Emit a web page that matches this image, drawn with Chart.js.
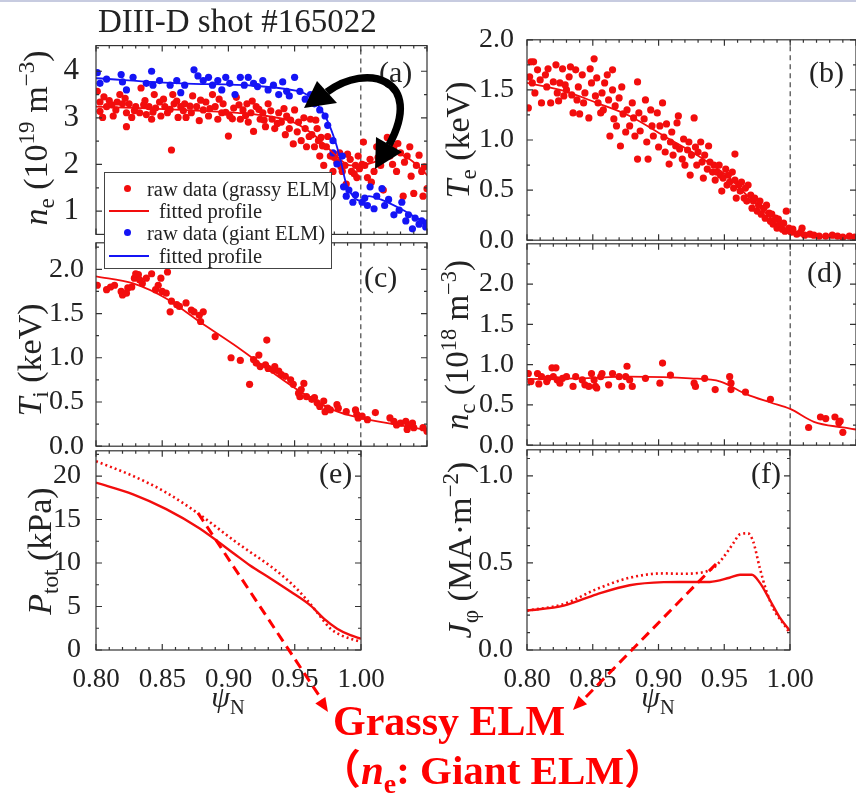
<!DOCTYPE html>
<html>
<head>
<meta charset="utf-8">
<script src="https://cdn.jsdelivr.net/npm/chart.js@4.4.0/dist/chart.umd.min.js"></script>
<style>
html, body { margin: 0; padding: 0; background: #fff; width: 856px; height: 798px; overflow: hidden; }
body { position: relative; font-family: "Liberation Serif", "DejaVu Serif", serif; color: #222; }
canvas { position: absolute; }
.t { position: absolute; white-space: nowrap; line-height: 1; z-index: 5; }
.rot { transform: translate(-50%, -50%) rotate(-90deg); }
.ctr { transform: translate(-50%, -50%); }
sub, sup { font-size: 0.68em; line-height: 0; position: relative; vertical-align: baseline; }
sub { top: 0.32em; }
sup { top: -0.55em; }
#leg { position: absolute; left: 104px; top: 172px; width: 226px; height: 95px; border: 1px solid #444; background: #fff; z-index: 6; font-size: 20.5px; }
#leg .row { position: absolute; white-space: nowrap; line-height: 1; }
#leg .dot { position: absolute; width: 7px; height: 7px; border-radius: 50%; }
#leg .ln { position: absolute; height: 2px; width: 40px; }
#topbar { position: absolute; left: 0; top: 0; width: 856px; height: 2px; background: #c7cbe0; }
svg { position: absolute; left: 0; top: 0; z-index: 7; pointer-events: none; }
</style>
</head>
<body>
<div id="topbar"></div>

<script>
// psi_N on x
const neGrassyRaw = [
  [0.801,3.57],[0.803,3.34],[0.803,3.14],[0.805,3.01],[0.806,3.45],[0.808,3.24],[0.810,3.37],[0.812,3.28],[0.813,3.04],[0.815,3.17],
  [0.816,3.34],[0.818,3.50],[0.820,3.30],[0.822,3.42],[0.823,3.11],[0.823,2.81],[0.825,3.30],[0.827,3.01],[0.829,3.15],[0.830,3.24],
  [0.833,3.11],[0.834,3.64],[0.836,3.28],[0.837,3.37],[0.838,3.07],[0.840,3.24],[0.842,2.97],[0.843,3.12],[0.844,3.50],[0.845,3.21],
  [0.848,3.34],[0.849,3.04],[0.851,3.40],[0.852,3.24],[0.854,3.11],[0.856,3.18],[0.857,2.31],[0.858,3.50],[0.859,3.30],[0.861,3.36],
  [0.862,3.01],[0.864,3.24],[0.866,3.15],[0.867,3.30],[0.868,3.01],[0.871,3.25],[0.872,3.11],[0.873,3.47],[0.876,3.24],[0.878,2.94],
  [0.879,3.38],[0.881,3.17],[0.883,3.34],[0.885,3.04],[0.886,3.20],[0.888,3.50],[0.890,3.24],[0.892,2.97],[0.893,3.40],[0.895,3.11],
  [0.896,3.30],[0.898,3.12],[0.900,2.61],[0.901,3.04],[0.903,2.98],[0.904,3.21],[0.906,3.44],[0.908,3.28],[0.909,2.97],[0.911,3.17],
  [0.913,3.05],[0.914,3.30],[0.915,2.91],[0.917,3.11],[0.918,3.36],[0.919,2.71],[0.921,3.24],[0.923,3.18],[0.924,2.97],[0.926,3.11],
  [0.927,2.95],[0.928,2.81],[0.930,3.30],[0.932,3.15],[0.933,2.97],[0.935,2.77],[0.937,2.88],[0.938,3.11],[0.940,2.91],[0.942,3.20],
  [0.943,2.64],[0.944,3.04],[0.946,2.77],[0.947,2.95],[0.949,2.44],[0.950,3.17],[0.952,2.70],[0.953,2.91],[0.955,2.51],[0.957,3.00],
  [0.958,2.77],[0.959,2.38],[0.961,2.60],[0.962,2.97],[0.963,2.64],[0.965,2.38],[0.966,2.95],[0.967,2.77],[0.968,2.51],[0.969,2.18],
  [0.970,2.58],[0.971,2.40],[0.972,1.98],[0.974,2.38],[0.975,2.60],[0.977,2.18],[0.979,1.85],[0.980,2.15],[0.982,2.05],[0.984,2.25],
  [0.985,1.95],[0.986,1.85],[0.988,1.98],[0.989,1.58],[0.990,2.22],[0.992,2.11],[0.993,1.85],[0.995,1.80],[0.996,1.98],[0.997,1.72],
  [0.998,2.18],[0.999,1.91],[1.001,2.00],[1.002,2.48],[1.003,1.98],[1.005,1.72],[1.007,2.11],[1.008,1.62],[1.010,1.85],[1.012,2.38],
  [1.013,2.15],[1.015,1.98],[1.017,1.45],[1.018,2.30],[1.020,2.58],[1.022,2.18],[1.024,2.00],[1.025,2.38],[1.027,1.85],[1.028,2.45],
  [1.030,2.25],[1.032,1.32],[1.033,2.05],[1.035,2.18],[1.037,2.38],[1.038,1.75],[1.040,1.38],[1.042,1.98],[1.044,2.20],[1.046,1.85],
  [1.047,1.32],[1.048,1.95],[1.050,1.48],[1.051,2.05]
];
const neGrassyFit = [[0.800,3.24],[0.864,3.17],[0.929,3.04],[0.949,2.91],[0.967,2.58],[0.979,2.25],[0.992,1.98],[1.000,1.98],
  [1.010,2.05],[1.025,2.25],[1.037,2.11],[1.051,1.75]];
const neGiantRaw = [
  [0.801,3.97],[0.803,3.74],[0.808,3.83],[0.819,3.93],[0.820,3.77],[0.823,3.60],[0.828,3.87],[0.838,3.74],[0.842,4.00],[0.843,3.70],
  [0.848,3.80],[0.856,3.70],[0.861,3.80],[0.864,3.54],[0.867,3.70],[0.874,4.03],[0.877,3.90],[0.881,3.80],[0.885,3.87],[0.888,3.70],
  [0.892,3.80],[0.895,3.60],[0.898,3.87],[0.901,3.74],[0.905,3.50],[0.909,3.87],[0.912,3.70],[0.915,3.87],[0.919,3.74],[0.922,3.67],
  [0.926,3.80],[0.930,3.60],[0.934,3.70],[0.938,3.50],[0.941,3.77],[0.944,3.57],[0.946,3.47],[0.950,3.87],[0.954,3.57],[0.958,3.40],
  [0.962,3.50],[0.965,3.30],[0.969,3.17],[0.973,3.04],[0.975,2.84],[0.979,2.51],[0.979,2.25],[0.982,2.01],[0.986,2.18],[0.987,1.52],
  [0.989,1.32],[0.991,1.45],[0.994,1.19],[0.996,1.35],[1.001,1.19],[1.003,1.28],[1.005,1.12],[1.007,1.52],[1.010,1.05],[1.012,1.32],
  [1.016,1.48],[1.018,1.12],[1.021,1.25],[1.025,0.92],[1.029,1.02],[1.031,1.19],[1.034,0.79],[1.036,0.92],[1.039,0.62],[1.041,0.85],
  [1.044,0.72],[1.046,0.79],[1.049,0.66],[1.050,0.75]
];
const neGiantFit = [[0.800,3.85],[0.864,3.74],[0.952,3.58],[0.962,3.44],[0.973,3.04],[0.979,2.64],[0.984,2.18],[0.989,1.58],
  [0.994,1.32],[1.000,1.22],[1.006,1.32],[1.015,1.25],[1.030,1.05],[1.040,0.89],[1.051,0.72]];

const teRaw = [
  [0.801,1.32],[0.802,1.63],[0.803,1.78],[0.804,1.57],[0.805,1.78],[0.806,1.47],[0.808,1.70],[0.810,1.60],[0.811,1.37],[0.814,1.65],
  [0.815,1.53],[0.816,1.71],[0.818,1.37],[0.820,1.58],[0.822,1.75],[0.823,1.47],[0.824,1.39],[0.825,1.57],[0.827,1.71],[0.828,1.44],
  [0.829,1.55],[0.830,1.50],[0.832,1.63],[0.833,1.73],[0.834,1.45],[0.835,1.27],[0.837,1.70],[0.838,1.40],[0.839,1.53],[0.840,1.26],
  [0.842,1.65],[0.843,1.37],[0.844,1.47],[0.847,1.22],[0.848,1.71],[0.849,1.57],[0.851,1.81],[0.852,1.44],[0.853,1.62],[0.854,1.37],
  [0.856,1.27],[0.857,1.47],[0.858,1.30],[0.859,1.57],[0.861,1.65],[0.862,1.40],[0.863,1.04],[0.865,1.70],[0.865,1.50],[0.866,1.21],
  [0.867,1.34],[0.868,1.14],[0.870,1.42],[0.871,0.94],[0.872,1.53],[0.873,1.26],[0.875,1.08],[0.876,1.30],[0.878,1.14],[0.880,1.37],
  [0.881,1.22],[0.882,1.04],[0.884,1.58],[0.884,0.81],[0.885,1.27],[0.886,1.09],[0.889,1.21],[0.890,1.40],[0.891,0.98],[0.892,0.81],
  [0.894,1.30],[0.895,1.14],[0.896,1.04],[0.899,1.27],[0.900,0.93],[0.901,1.14],[0.903,1.37],[0.904,1.03],[0.905,0.88],[0.906,1.16],
  [0.908,0.76],[0.909,0.98],[0.910,1.08],[0.911,0.85],[0.913,0.94],[0.914,1.17],[0.915,1.24],[0.916,0.91],[0.918,0.81],[0.919,1.01],
  [0.920,0.75],[0.922,0.90],[0.923,0.98],[0.924,0.65],[0.925,0.85],[0.927,1.22],[0.928,0.93],[0.929,0.75],[0.930,0.88],[0.932,0.98],
  [0.933,0.78],[0.934,0.62],[0.935,0.85],[0.937,0.71],[0.938,0.94],[0.939,0.78],[0.941,0.68],[0.942,0.75],[0.943,0.60],[0.944,0.68],
  [0.946,0.75],[0.947,0.65],[0.948,0.49],[0.949,0.62],[0.951,0.71],[0.952,0.55],[0.953,0.65],[0.954,0.58],[0.956,0.68],[0.957,0.52],
  [0.958,0.86],[0.958,0.60],[0.959,0.42],[0.961,0.55],[0.962,0.49],[0.963,0.58],[0.965,0.42],[0.966,0.52],[0.967,0.39],[0.968,0.55],
  [0.970,0.45],[0.971,0.32],[0.972,0.39],[0.973,0.42],[0.975,0.29],[0.976,0.35],[0.977,0.39],[0.978,0.26],[0.980,0.32],[0.981,0.22],
  [0.982,0.35],[0.984,0.27],[0.985,0.19],[0.986,0.26],[0.987,0.16],[0.989,0.22],[0.990,0.12],[0.991,0.21],[0.992,0.16],[0.994,0.11],
  [0.995,0.17],[0.996,0.09],[0.997,0.29],[0.999,0.12],[1.000,0.09],[1.001,0.08],[1.002,0.11],[1.005,0.06],[1.008,0.08],[1.009,0.12],
  [1.011,0.05],[1.015,0.06],[1.018,0.05],[1.022,0.04],[1.027,0.04],[1.032,0.05],[1.036,0.04],[1.040,0.03],[1.045,0.04],[1.049,0.03]
];
const teFit = [[0.800,1.57],[0.828,1.49],[0.853,1.37],[0.878,1.24],[0.904,1.04],[0.929,0.85],[0.954,0.62],[0.967,0.45],
  [0.980,0.29],[0.990,0.16],[1.000,0.08],[1.010,0.04],[1.030,0.03],[1.050,0.02]];

const tiRaw = [
  [0.801,1.82],[0.808,1.77],[0.811,1.80],[0.814,1.82],[0.819,1.75],[0.820,1.71],[0.823,1.73],[0.824,1.79],[0.827,1.80],[0.829,1.90],
  [0.830,1.95],[0.832,1.94],[0.833,1.88],[0.835,1.84],[0.838,1.90],[0.842,1.95],[0.845,1.77],[0.847,1.82],[0.849,1.90],[0.850,1.75],
  [0.853,1.73],[0.854,1.97],[0.856,1.52],[0.857,1.64],[0.861,1.60],[0.863,1.58],[0.868,1.62],[0.872,1.54],[0.874,1.52],[0.878,1.48],
  [0.879,1.41],[0.881,1.52],[0.890,1.24],[0.902,1.00],[0.909,0.97],[0.916,0.70],[0.919,0.98],[0.921,0.94],[0.923,1.03],[0.924,0.90],
  [0.928,0.92],[0.929,1.20],[0.930,0.88],[0.934,0.86],[0.935,0.90],[0.938,0.85],[0.940,0.81],[0.943,0.79],[0.947,0.75],[0.949,0.70],
  [0.953,0.60],[0.954,0.56],[0.955,0.64],[0.957,0.71],[0.959,0.56],[0.963,0.53],[0.965,0.55],[0.967,0.49],[0.969,0.45],[0.972,0.51],
  [0.973,0.39],[0.975,0.43],[0.977,0.41],[0.982,0.47],[0.983,0.43],[0.989,0.39],[0.996,0.41],[0.997,0.36],[0.998,0.32],[1.001,0.34],
  [1.005,0.30],[1.011,0.38],[1.022,0.32],[1.025,0.28],[1.027,0.24],[1.030,0.26],[1.034,0.28],[1.035,0.19],[1.036,0.23],[1.039,0.26],
  [1.040,0.21],[1.047,0.21],[1.050,0.17]
];
const tiFit = [[0.800,1.92],[0.828,1.84],[0.853,1.67],[0.878,1.41],[0.904,1.15],[0.929,0.88],[0.954,0.62],[0.979,0.41],
  [0.999,0.32],[1.017,0.27],[1.051,0.18]];

const ncRaw = [
  [0.801,0.89],[0.803,0.79],[0.808,0.89],[0.809,0.76],[0.811,0.85],[0.815,0.79],[0.816,0.83],[0.819,0.96],[0.820,0.85],[0.822,0.96],
  [0.823,0.81],[0.825,0.77],[0.827,0.83],[0.830,0.85],[0.835,0.73],[0.837,0.85],[0.842,0.81],[0.844,0.75],[0.847,0.73],[0.849,0.89],
  [0.851,0.81],[0.852,0.73],[0.853,0.71],[0.856,0.85],[0.857,0.89],[0.862,0.75],[0.865,0.89],[0.870,0.85],[0.872,0.73],[0.875,0.85],
  [0.876,0.98],[0.878,0.81],[0.880,0.73],[0.890,0.83],[0.901,0.77],[0.903,1.02],[0.909,0.87],[0.927,0.77],[0.928,0.73],[0.935,0.83],
  [0.943,0.69],[0.954,0.85],[0.955,0.77],[0.955,0.69],[0.966,0.66],[0.985,0.57],[1.014,0.22],[1.023,0.35],[1.027,0.33],[1.034,0.35],
  [1.037,0.28],[1.038,0.30],[1.040,0.16]
];
const ncFit = [[0.800,0.82],[0.840,0.83],[0.878,0.85],[0.924,0.83],[0.947,0.79],[0.967,0.63],[0.985,0.53],[1.000,0.45],
  [1.018,0.29],[1.040,0.22],[1.050,0.195]];

const pGrassy = [[0.800,19.25],[0.828,17.9],[0.853,16.2],[0.878,14.0],[0.904,11.1],[0.916,9.75],[0.932,8.2],[0.947,6.7],
  [0.962,5.1],[0.972,3.6],[0.982,2.45],[0.992,1.7],[1.000,1.3]];
const pGiant = [[0.800,21.7],[0.828,20.0],[0.853,18.1],[0.878,15.6],[0.904,12.6],[0.916,11.3],[0.932,9.6],[0.947,7.7],
  [0.959,5.8],[0.967,4.3],[0.977,2.45],[0.985,1.7],[0.992,1.3],[1.000,0.95]];

const jGrassy = [[0.800,0.226],[0.828,0.255],[0.853,0.32],[0.878,0.372],[0.904,0.390],[0.916,0.391],[0.939,0.391],[0.954,0.415],
  [0.962,0.432],[0.971,0.432],[0.977,0.387],[0.985,0.283],[0.992,0.189],[1.000,0.110]];
const jGiant = [[0.800,0.226],[0.828,0.264],[0.853,0.35],[0.878,0.415],[0.904,0.440],[0.916,0.438],[0.932,0.444],[0.942,0.472],
  [0.949,0.529],[0.957,0.614],[0.962,0.665],[0.968,0.670],[0.972,0.623],[0.977,0.472],[0.982,0.340],[0.988,0.227],[0.995,0.151],[1.000,0.095]];

const xTicks = [0.80, 0.85, 0.90, 0.95, 1.00, 1.05];

const RED = '#f20d0d';
const BLUE = '#1414f5';
const pts = arr => arr.map(([x, y]) => ({ x, y }));

function raw(arr, color) {
  return { data: pts(arr), pointRadius: 3.6, pointBackgroundColor: color, pointBorderWidth: 0, showLine: false };
}
function fit(arr, color, width, dash) {
  return { data: pts(arr), showLine: true, borderColor: color, borderWidth: width,
    borderDash: dash || [], pointRadius: 0, cubicInterpolationMode: 'monotone' };
}
function sep(yMin, yMax) {
  return { data: [{ x: 1, y: yMin }, { x: 1, y: yMax }], showLine: true, borderColor: '#444',
    borderWidth: 1.2, borderDash: [5, 4], pointRadius: 0 };
}

// frame with inward ticks on all four sides
const framePlugin = {
  id: 'frame',
  afterDraw(chart, args, opts) {
    const { ctx, chartArea: a, scales: { x, y } } = chart;
    ctx.save();
    ctx.strokeStyle = '#333';
    ctx.lineWidth = 1.2;
    ctx.strokeRect(a.left, a.top, a.right - a.left, a.bottom - a.top);
    ctx.beginPath();
    const tk = (px, py, dx, dy) => { ctx.moveTo(px, py); ctx.lineTo(px + dx, py + dy); };
    for (let i = 80; i <= 105; i++) {
      const v = i / 100;
      if (v > x.max + 1e-9) break;
      const L = i % 5 === 0 ? 6 : 3;
      const p = x.getPixelForValue(v);
      tk(p, a.bottom, 0, -L); tk(p, a.top, 0, L);
    }
    opts.yMajor.forEach(v => {
      const p = y.getPixelForValue(v);
      tk(a.left, p, 6, 0); tk(a.right, p, -6, 0);
    });
    opts.yMinor.forEach(v => {
      const p = y.getPixelForValue(v);
      tk(a.left, p, 3, 0); tk(a.right, p, -3, 0);
    });
    ctx.stroke();
    ctx.restore();
  }
};

function panel(p) {
  const padL = 100, padT = 20, padR = p.showX ? 32 : 20, padB = p.showX ? 45 : 20;
  const cv = document.createElement('canvas');
  cv.width = padL + p.w + padR;
  cv.height = padT + p.h + padB;
  cv.style.left = (p.l - padL) + 'px';
  cv.style.top = (p.t - padT) + 'px';
  cv.style.zIndex = p.z;
  document.body.appendChild(cv);
  const font = { family: '"Liberation Serif", serif', size: p.fs };
  new Chart(cv.getContext('2d'), {
    type: 'scatter',
    data: { datasets: p.sets },
    options: {
      responsive: false, animation: false, devicePixelRatio: 1,
      layout: { padding: { left: 0, top: padT, right: padR, bottom: p.showX ? 0 : padB } },
      plugins: { legend: { display: false }, tooltip: { enabled: false },
        frame: { yMajor: p.yTicks, yMinor: p.yMinor } },
      scales: {
        x: {
          type: 'linear', min: 0.8, max: p.xMax,
          grid: { display: false }, border: { display: false },
          afterBuildTicks: s => { s.ticks = xTicks.filter(v => v <= p.xMax + 1e-9).map(v => ({ value: v })); },
          afterFit: s => { s.height = p.showX ? padB : 0; },
          ticks: { display: p.showX, font: { family: font.family, size: 27 }, color: '#222', padding: 6,
            maxRotation: 0, autoSkip: false, callback: v => v.toFixed(2) }
        },
        y: {
          type: 'linear', min: p.yMin, max: p.yMax,
          grid: { display: false }, border: { display: false },
          afterBuildTicks: s => { s.ticks = p.yTicks.map(v => ({ value: v })); },
          afterFit: s => { s.width = padL; },
          ticks: { font, color: '#222', padding: p.yPad, callback: v => v.toFixed(p.dec) }
        }
      }
    },
    plugins: [framePlugin]
  });
}

panel({ l: 96, t: 38, w: 331, h: 204, xMax: 1.05, yMin: 0.5, yMax: 4.55, yTicks: [1, 2, 3, 4],
  yMinor: [1.5, 2.5, 3.5, 4.5], dec: 0, fs: 31, yPad: 9, showX: false, z: 3,
  sets: [fit(neGiantFit, BLUE, 1.8), fit(neGrassyFit, RED, 1.8), raw(neGiantRaw, BLUE), raw(neGrassyRaw, RED), sep(0.5, 4.55)] });
panel({ l: 527, t: 38, w: 329, h: 204, xMax: 1.05, yMin: 0, yMax: 2.0, yTicks: [0, 0.5, 1.0, 1.5, 2.0],
  yMinor: [0.25, 0.75, 1.25, 1.75], dec: 1, fs: 28, yPad: 5, showX: false, z: 3,
  sets: [fit(teFit, RED, 1.8), raw(teRaw, RED), sep(0, 2.0)] });
panel({ l: 96, t: 242, w: 331, h: 205, xMax: 1.05, yMin: 0, yMax: 2.3, yTicks: [0, 0.5, 1.0, 1.5, 2.0],
  yMinor: [0.25, 0.75, 1.25, 1.75, 2.25], dec: 1, fs: 28, yPad: 4, showX: false, z: 2,
  sets: [fit(tiFit, RED, 1.8), raw(tiRaw, RED), sep(0, 2.3)] });
panel({ l: 527, t: 242, w: 329, h: 205, xMax: 1.05, yMin: 0, yMax: 2.5, yTicks: [0, 0.5, 1.0, 1.5, 2.0],
  yMinor: [0.25, 0.75, 1.25, 1.75, 2.25], dec: 1, fs: 28, yPad: 5, showX: false, z: 2,
  sets: [fit(ncFit, RED, 1.8), raw(ncRaw, RED), sep(0, 2.5)] });
panel({ l: 96, t: 447, w: 265, h: 203, xMax: 1.0, yMin: 0, yMax: 22.9, yTicks: [0, 5, 10, 15, 20],
  yMinor: [2.5, 7.5, 12.5, 17.5, 22.5], dec: 0, fs: 28, yPad: 7, showX: true, z: 1,
  sets: [fit(pGrassy, RED, 2.4), fit(pGiant, RED, 2.6, [2, 3])] });
panel({ l: 527, t: 447, w: 263, h: 203, xMax: 1.0, yMin: 0, yMax: 1.15, yTicks: [0, 0.5, 1.0],
  yMinor: [0.1, 0.2, 0.3, 0.4, 0.6, 0.7, 0.8, 0.9, 1.1], dec: 1, fs: 28, yPad: 6, showX: true, z: 1,
  sets: [fit(jGrassy, RED, 2.4), fit(jGiant, RED, 2.6, [2, 3])] });
</script>

<div class="t" style="left:98px;top:5px;font-size:33px;">DIII-D shot #165022</div>

<div class="t rot" style="left:36px;top:138px;font-size:34px;"><i>n</i><sub>e</sub> (10<sup>19</sup> m<sup>−3</sup>)</div>
<div class="t rot" style="left:458px;top:140px;font-size:34px;"><i>T</i><sub>e</sub> (keV)</div>
<div class="t rot" style="left:30px;top:360px;font-size:34px;"><i>T</i><sub>i</sub> (keV)</div>
<div class="t rot" style="left:457px;top:345px;font-size:33px;"><i>n</i><sub>c</sub> (10<sup>18</sup> m<sup>−3</sup>)</div>
<div class="t rot" style="left:40px;top:551px;font-size:34px;"><i>P</i><sub>tot</sub> (kPa)</div>
<div class="t rot" style="left:460px;top:550px;font-size:34px;"><i>J</i><sub>φ</sub> (MA·m<sup>−2</sup>)</div>

<div class="t ctr" style="left:228px;top:697px;font-size:30px;"><i>ψ</i><sub>N</sub></div>
<div class="t ctr" style="left:658px;top:697px;font-size:30px;"><i>ψ</i><sub>N</sub></div>

<div class="t" style="left:379px;top:57px;font-size:30px;">(a)</div>
<div class="t" style="left:809px;top:57px;font-size:30px;">(b)</div>
<div class="t" style="left:364px;top:262px;font-size:30px;">(c)</div>
<div class="t" style="left:807px;top:257px;font-size:30px;">(d)</div>
<div class="t" style="left:319px;top:458px;font-size:30px;">(e)</div>
<div class="t" style="left:751px;top:458px;font-size:30px;">(f)</div>

<div id="leg">
  <div class="dot" style="left:19px;top:12px;background:#f20d0d;"></div>
  <div class="row" style="left:42px;top:6px;">raw data (grassy ELM)</div>
  <div class="ln" style="left:4px;top:37px;background:#f20d0d;"></div>
  <div class="row" style="left:54px;top:28px;">fitted profile</div>
  <div class="dot" style="left:19px;top:56px;background:#1414f5;"></div>
  <div class="row" style="left:42px;top:50px;">raw data (giant ELM)</div>
  <div class="ln" style="left:4px;top:82px;background:#1414f5;"></div>
  <div class="row" style="left:54px;top:73px;">fitted profile</div>
</div>

<div class="t" style="left:333px;top:700px;font-size:42px;font-weight:bold;color:#ff0000;">Grassy ELM</div>
<div class="t" style="left:320px;top:746px;font-size:41px;font-weight:bold;color:#ff0000;"><span style="font-family:'Noto Sans CJK JP';">（</span><i>n</i><sub>e</sub>: Giant ELM<span style="font-family:'Noto Sans CJK JP';">）</span></div>

<svg width="856" height="798" id="ov">
  <path d="M 327 92 C 367 62, 425 79, 389 145" fill="none" stroke="#000" stroke-width="7.5"/>
  <polygon points="304,108 317,81 337,103" fill="#000"/>
  <polygon points="375,169 376,137 402,152" fill="#000"/>
  <line x1="198" y1="513" x2="322" y2="700" stroke="#f00" stroke-width="3" stroke-dasharray="10,6"/>
  <line x1="716" y1="564" x2="581" y2="702" stroke="#f00" stroke-width="3" stroke-dasharray="10,6"/>
</svg>
<script>
  // arrowheads for the red dashed pointers
  function head(x1, y1, x2, y2) {
    const dx = x2 - x1, dy = y2 - y1, d = Math.hypot(dx, dy), ux = dx / d, uy = dy / d;
    const bx = x2 - ux * 14, by = y2 - uy * 14;
    return [x2, y2, bx - uy * 6, by + ux * 6, bx + uy * 6, by - ux * 6].join(',');
  }
  const ov = document.getElementById('ov');
  [[198, 513, 328, 712], [716, 564, 573, 710]].forEach(([a, b, c, d]) => {
    const pg = document.createElementNS('http://www.w3.org/2000/svg', 'polygon');
    pg.setAttribute('points', head(a, b, c, d));
    pg.setAttribute('fill', '#f00');
    ov.appendChild(pg);
  });
</script>
</body>
</html>
